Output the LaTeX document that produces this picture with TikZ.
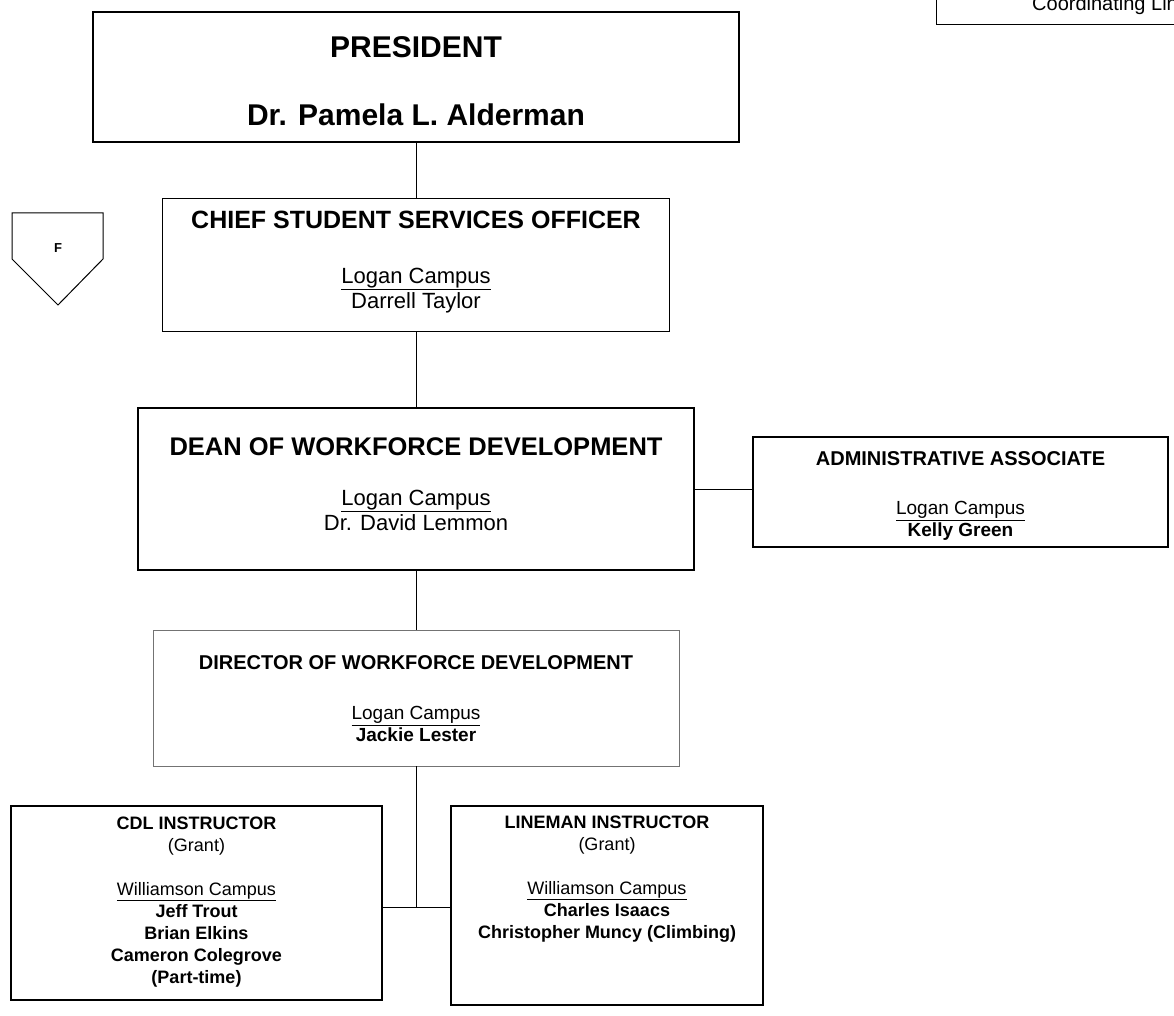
\documentclass[tikz,border=0pt]{standalone}
\usepackage{fontspec}
\setmainfont{Liberation Sans}
\begin{document}
\begin{tikzpicture}[x=1pt,y=1pt,yscale=-1,
  box/.style={draw,line width=1.1pt,inner sep=0pt},
  txt/.style={align=center,inner sep=0pt},
  bigtxt/.style={txt,font=\fontsize{22}{25}\selectfont},
  smalltxt/.style={txt,font=\fontsize{19}{22}\selectfont\bfseries},
  instrtxt/.style={txt,font=\fontsize{18}{22}\selectfont\bfseries},
  link/.style={line width=1pt}]
\useasboundingbox (0,0) rectangle (1174,1016);
\clip (0,0) rectangle (1174,1016);

% corner box, cut off by the page
\node[draw,line width=1pt,anchor=south west,minimum width=300,minimum height=60] (coordbox) at (936,25) {};
\node[anchor=base west,inner sep=0pt,font=\fontsize{20}{22}\selectfont] (coordtxt) at (1032,11) {Coordinating Line};

% off-page marker
\draw[line width=1pt] (12,213) -- (103,213) -- (103,259) -- (58,305) -- (12,259) -- cycle;
\node[font=\fontsize{13}{15}\selectfont\bfseries] (fmark) at (58,248) {F};

% boxes
\node[box,minimum width=646,minimum height=130] (pres) at (416,77) {};
\node[box,minimum width=507,minimum height=133] (chief) at (416,265) {};
\node[box,minimum width=556,minimum height=162] (dean) at (416,489) {};
\node[box,minimum width=415,minimum height=110] (admin) at (960.5,492) {};
\node[box,draw=black!55,line width=0.6pt,minimum width=526,minimum height=136] (dir) at (416,698) {};
\node[box,minimum width=371,minimum height=194] (cdl) at (196.5,903) {};
\node[box,minimum width=312,minimum height=199] (lineman) at (607,905.5) {};

% texts
\node[txt,font=\fontsize{30}{34}\selectfont\bfseries] (prestxt) at (416,81)
  {PRESIDENT\\[34pt]Dr. Pamela L. Alderman};
\node[bigtxt] (chieftxt) at (416,262)
  {{\fontsize{25}{25}\selectfont\bfseries CHIEF STUDENT SERVICES OFFICER}\\[30pt]\underline{Logan Campus}\\Darrell Taylor};
\node[bigtxt] (deantxt) at (416,484)
  {{\fontsize{25.5}{26}\selectfont\bfseries DEAN OF WORKFORCE DEVELOPMENT}\\[25pt]\underline{Logan Campus}\\Dr. David Lemmon};
\node[smalltxt] (admintxt) at (960.5,496)
  {{\fontsize{20}{22}\selectfont ADMINISTRATIVE ASSOCIATE}\\[27pt]{\mdseries\underline{Logan Campus}}\\Kelly Green};
\node[smalltxt] (dirtxt) at (416,699)
  {{\fontsize{20}{22}\selectfont DIRECTOR OF WORKFORCE DEVELOPMENT}\\[28pt]{\mdseries\underline{Logan Campus}}\\Jackie Lester};
\node[instrtxt] (cdltxt) at (196.5,902)
  {CDL INSTRUCTOR\\{\mdseries (Grant)}\\[22pt]{\mdseries\underline{Williamson Campus}}\\Jeff Trout\\Brian Elkins\\Cameron Colegrove\\(Part-time)};
\node[instrtxt] (linemantxt) at (607,879)
  {LINEMAN INSTRUCTOR\\{\mdseries (Grant)}\\[22pt]{\mdseries\underline{Williamson Campus}}\\Charles Isaacs\\Christopher Muncy (Climbing)};

% connectors
\coordinate (jn) at (416,907);
\draw[link] (pres.south) -- (chief.north);
\draw[link] (chief.south) -- (dean.north);
\draw[link] (dean.east) -- (admin.west |- dean.east);
\draw[link] (dean.south) -- (dir.north);
\draw[link] (dir.south) -- (jn);
\draw[link] (cdl.east |- jn) -- (lineman.west |- jn);
\end{tikzpicture}
\end{document}
